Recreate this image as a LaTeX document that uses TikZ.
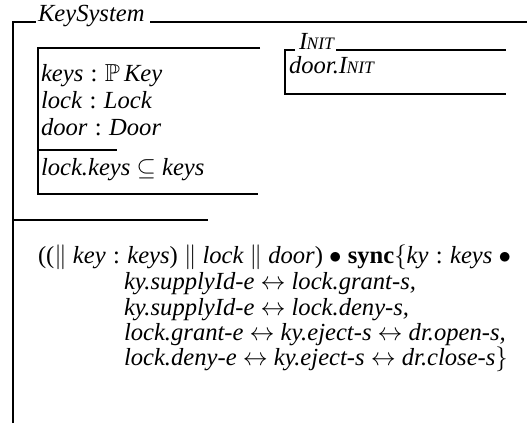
\documentclass[tikz,border=0pt]{standalone}
\usepackage{amssymb}
\usepackage{fontspec}
\setmainfont{Liberation Serif}
\newcommand{\zid}[1]{\textit{#1}}
\newcommand{\zcolon}{\hspace{0.3em}\textup{:}\hspace{0.3em}}
\newcommand{\zp}[1]{\textup{#1}}
\newcommand{\zinit}{\textit{I\kern-0.5pt{\fontsize{17.5}{17.5}\selectfont NIT}}}
\begin{document}
\begin{tikzpicture}[x=1pt,y=-1pt,
  rule/.style={line width=1.9pt},
  ztext/.style={anchor=base west,inner sep=0pt,outer sep=0pt,font=\fontsize{24.6}{27}\selectfont\itshape}]
\useasboundingbox (0,0) rectangle (527,423);

% outer schema KeySystem
\node[ztext] (title) at (38,21) {KeySystem};
\draw[rule] (13,423) -- (13,22) -- (36,22);
\draw[rule] (150,22) -- (527,22);
\draw[rule] (13,220) -- (208,220);

% state schema box
\draw[rule] (260,48) -- (38,48) -- (38,194) -- (258,194);
\draw[rule] (38,150) -- (117,150);
\node[ztext] (d1) at (41,81)  {keys\zcolon$\mathbb{P}$\,Key};
\node[ztext] (d2) at (41,108) {lock\zcolon Lock};
\node[ztext] (d3) at (41,135) {door\zcolon Door};
\node[ztext] (p1) at (41,175) {lock.keys $\subseteq$ keys};

% initialisation schema
\node[ztext] (ititle) at (299,49) {\zinit};
\draw[rule] (295,50) -- (285,50) -- (285,94) -- (506,94);
\draw[rule] (336,50) -- (506,50);
\node[ztext] (i1) at (289,73) {door.\zinit};

% behaviour
\node[ztext] (b1) at (38,263) {\zp{((}$\|$ key\zcolon keys\zp{)} $\|$ lock $\|$ door\zp{)} $\bullet$ \textbf{\upshape sync}$\{$ky\zcolon keys $\bullet$};
\node[ztext] (b2) at (124,289) {ky.supplyId-e $\leftrightarrow$ lock.grant-s,};
\node[ztext] (b3) at (124,315) {ky.supplyId-e $\leftrightarrow$ lock.deny-s,};
\node[ztext] (b4) at (124,340) {lock.grant-e $\leftrightarrow$ ky.eject-s $\leftrightarrow$ dr.open-s,};
\node[ztext] (b5) at (124,365) {lock.deny-e $\leftrightarrow$ ky.eject-s $\leftrightarrow$ dr.close-s$\}$};
\end{tikzpicture}
\end{document}
